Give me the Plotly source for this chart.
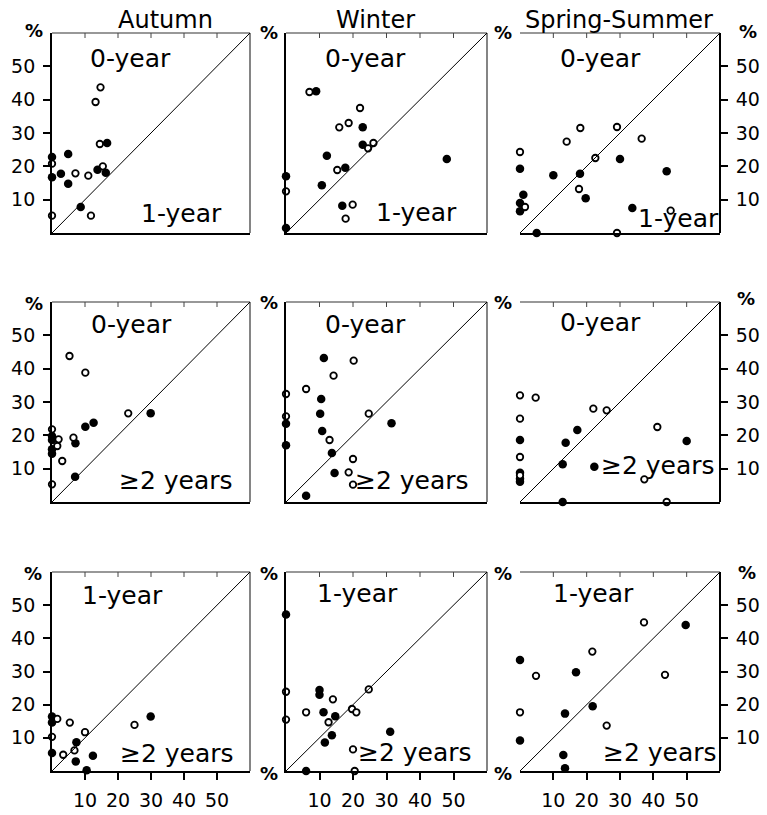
import plotly.graph_objects as go

# Axis extent (percent) shared by every panel
AXIS_MAX = 60
TICKS = [10, 20, 30, 40, 50]

SEASONS = ["Autumn", "Winter", "Spring-Summer"]
ROW_LABELS = [("0-year", "1-year"), ("0-year", "\u22652 years"), ("1-year", "\u22652 years")]

# (x, y) pairs: open = hollow symbols, filled = solid symbols
aut_0v1_open = [(0, 20.8), (0, 5.2), (7.1, 17.9), (11.0, 17.2), (11.8, 5.2), (13.2, 39.3),
                (14.7, 43.7), (14.5, 26.7), (15.4, 20.0)]
aut_0v1_fill = [(0, 22.8), (0, 16.7), (2.7, 17.8), (4.9, 23.7), (4.9, 14.8), (8.7, 7.8),
                (16.7, 27.0), (13.8, 19.0), (16.3, 18.1)]
win_0v1_open = [(0, 12.5), (7.0, 42.3), (22.1, 37.5), (15.9, 31.7), (18.7, 33.0), (24.5, 25.4),
                (26.1, 27.0), (15.3, 18.9), (19.9, 8.5), (17.8, 4.3)]
win_0v1_fill = [(0, 17.0), (0, 1.5), (9.0, 42.5), (22.9, 31.7), (22.9, 26.5), (12.2, 23.2),
                (17.7, 19.6), (10.7, 14.3), (16.8, 8.2), (48.0, 22.2)]
spr_0v1_open = [(0, 24.3), (1.5, 7.8), (14.0, 27.4), (18.1, 31.5), (17.7, 13.2), (22.6, 22.5),
                (29.1, 31.8), (29.1, 0), (36.5, 28.3), (45.2, 6.7)]
spr_0v1_fill = [(0, 19.3), (1.0, 11.5), (0, 9.0), (0, 6.5), (5.0, 0), (10.0, 17.3), (18.0, 17.8),
                (19.7, 10.4), (30.0, 22.2), (33.7, 7.5), (44.0, 18.5)]

aut_0v2_open = [(0, 21.8), (0, 5.3), (2.0, 18.8), (1.6, 16.8), (3.1, 12.3), (5.3, 43.8),
                (6.5, 19.3), (10.1, 38.8), (23.1, 26.6)]
aut_0v2_fill = [(0, 19.8), (0, 18.6), (0, 15.8), (0, 14.5), (7.1, 17.6), (7.0, 7.6),
                (10.1, 22.6), (12.6, 23.8), (29.9, 26.6)]
win_0v2_open = [(0, 32.4), (0, 25.7), (6.0, 33.9), (20.2, 42.4), (14.2, 37.9), (13.0, 18.6),
                (24.7, 26.5), (20.0, 12.9), (18.7, 8.9), (20.0, 5.2)]
win_0v2_fill = [(0, 23.5), (0, 17.0), (11.3, 43.2), (10.5, 30.9), (10.2, 26.5), (10.8, 21.3),
                (13.7, 14.7), (31.5, 23.6), (14.5, 8.7), (6.0, 1.9)]
spr_0v2_open = [(0, 32.0), (0, 25.0), (0, 13.5), (0, 8.0), (4.7, 31.3), (22.0, 28.0),
                (26.0, 27.5), (37.3, 6.8), (41.2, 22.5), (44.0, 0)]
spr_0v2_fill = [(0, 18.6), (0, 8.8), (0, 7.0), (0, 6.1), (13.7, 17.8), (17.2, 21.6),
                (12.8, 11.3), (22.3, 10.6), (50.0, 18.3), (12.8, 0)]

aut_1v2_open = [(1.6, 15.7), (0, 10.3), (3.4, 4.9), (5.4, 14.6), (6.8, 6.2), (10.0, 11.7),
                (25.0, 13.9)]
aut_1v2_fill = [(0, 16.4), (0, 14.6), (0, 5.4), (7.4, 8.7), (7.2, 2.9), (10.5, 0.2),
                (12.4, 4.6), (29.9, 16.4)]
win_1v2_open = [(0, 23.9), (0, 15.5), (14.0, 21.6), (6.0, 17.7), (12.7, 14.7), (19.7, 18.7),
                (21.0, 17.7), (24.7, 24.6), (20.0, 6.5), (20.5, 0)]
win_1v2_fill = [(0, 47.2), (10.0, 24.4), (10.0, 23.0), (11.2, 17.7), (14.7, 16.5), (13.7, 10.8),
                (11.6, 8.6), (31.1, 11.8), (6.0, 0)]
spr_1v2_open = [(0, 17.7), (4.8, 28.7), (21.7, 36.0), (26.0, 13.7), (37.2, 44.8), (43.5, 29.0)]
spr_1v2_fill = [(0, 33.5), (0, 9.2), (16.8, 29.8), (13.5, 17.3), (21.8, 19.5), (49.7, 44.0),
                (13.0, 4.8), (13.5, 0.8)]

PANELS = [
    [(aut_0v1_open, aut_0v1_fill), (win_0v1_open, win_0v1_fill), (spr_0v1_open, spr_0v1_fill)],
    [(aut_0v2_open, aut_0v2_fill), (win_0v2_open, win_0v2_fill), (spr_0v2_open, spr_0v2_fill)],
    [(aut_1v2_open, aut_1v2_fill), (win_1v2_open, win_1v2_fill), (spr_1v2_open, spr_1v2_fill)],
]

W, H = 767, 815
FONT = "DejaVu Sans"

# Panel boxes in pixels: column left/right, row top/bottom
COL_PX = [(52, 250), (286, 487), (520, 720)]
ROW_PX = [(33, 233), (302, 502), (572, 771)]


def px(x, y):
    return x / W, 1 - y / H


fig = go.Figure()
layout = dict(width=W, height=H, margin=dict(l=0, r=0, t=0, b=0),
              paper_bgcolor="white", plot_bgcolor="white", showlegend=False,
              font=dict(family=FONT, color="black"))
shapes = []
annotations = []

for r in range(3):
    for c in range(3):
        idx = r * 3 + c + 1
        xa = "x" if idx == 1 else f"x{idx}"
        ya = "y" if idx == 1 else f"y{idx}"
        open_pts, fill_pts = PANELS[r][c]

        fig.add_trace(go.Scatter(
            x=[p[0] for p in fill_pts], y=[p[1] for p in fill_pts], mode="markers",
            xaxis=xa, yaxis=ya, cliponaxis=False,
            marker=dict(symbol="circle", size=8.5, color="black", line=dict(width=0))))
        fig.add_trace(go.Scatter(
            x=[p[0] for p in open_pts], y=[p[1] for p in open_pts], mode="markers",
            xaxis=xa, yaxis=ya, cliponaxis=False,
            marker=dict(symbol="circle", size=6.5, color="white",
                        line=dict(width=1.8, color="black"))))

        x0, x1 = COL_PX[c]
        yt, yb = ROW_PX[r]
        bottom_row = r == 2
        xaxis = dict(domain=[x0 / W, x1 / W], range=[0, AXIS_MAX], anchor=ya,
                     showgrid=False, zeroline=False, showline=True, linecolor="black",
                     linewidth=1.8, fixedrange=True,
                     tickvals=TICKS if bottom_row else [],
                     ticks="outside" if bottom_row else "", ticklen=7, tickwidth=1.5,
                     tickcolor="black", showticklabels=bottom_row,
                     ticklabelstandoff=4,
                     tickfont=dict(family=FONT, size=19, color="black"))
        yaxis = dict(domain=[1 - yb / H, 1 - yt / H], range=[0, AXIS_MAX], anchor=xa,
                     showgrid=False, zeroline=False, showline=True, linecolor="black",
                     linewidth=1.8, fixedrange=True,
                     tickvals=TICKS if c != 1 else [],
                     ticks="outside" if c != 1 else "", ticklen=7, tickwidth=1.5,
                     tickcolor="black", showticklabels=c != 1,
                     ticklabelstandoff=4,
                     tickfont=dict(family=FONT, size=19, color="black"))
        if c == 2:
            yaxis["side"] = "right"
            yaxis["anchor"] = "free"
            yaxis["position"] = x1 / W
        layout["xaxis" if idx == 1 else f"xaxis{idx}"] = xaxis
        layout["yaxis" if idx == 1 else f"yaxis{idx}"] = yaxis

        # top and right edges of the frame
        shapes.append(dict(type="line", xref=f"{xa} domain", yref=f"{ya} domain",
                           x0=0, x1=1, y0=1, y1=1, line=dict(color="#333", width=1.2)))
        if c != 2:
            shapes.append(dict(type="line", xref=f"{xa} domain", yref=f"{ya} domain",
                               x0=1, x1=1, y0=0, y1=1, line=dict(color="#333", width=1.2)))
        # equality line
        shapes.append(dict(type="line", xref=xa, yref=ya, x0=0, y0=0,
                           x1=AXIS_MAX, y1=AXIS_MAX, line=dict(color="black", width=1)))
        # small inward ticks along the top edge of the frame
        for t in TICKS:
            shapes.append(dict(type="line", xref=xa, yref=f"{ya} domain", x0=t, x1=t,
                               y0=1, y1=0.975, line=dict(color="#444", width=1)))

# Column headings
for name, (xp, yp) in zip(SEASONS, [(165, 20), (375, 20), (619, 20)]):
    ax, ay = px(xp, yp)
    annotations.append(dict(text=name, x=ax, y=ay, xref="paper", yref="paper",
                            showarrow=False, font=dict(family=FONT, size=24),
                            xanchor="center", yanchor="middle"))

# Age-class labels inside each panel (upper-left group / lower-right group)
upper_pos = [[(130, 58), (365, 58), (600, 58)],
             [(131, 325), (365, 325), (600, 323)],
             [(122, 595), (357, 593), (593, 593)]]
lower_pos = [[(181, 213), (416, 212), (678, 218)],
             [(176, 480), (412, 480), (658, 465)],
             [(177, 753), (415, 752), (660, 752)]]
for r in range(3):
    up, low = ROW_LABELS[r]
    for c in range(3):
        for txt, (xp, yp) in ((up, upper_pos[r][c]), (low, lower_pos[r][c])):
            ax, ay = px(xp, yp)
            annotations.append(dict(text=txt, x=ax, y=ay, xref="paper", yref="paper",
                                    showarrow=False, font=dict(family=FONT, size=25),
                                    xanchor="center", yanchor="middle"))

# Percent signs marking the axes
pct_pos = [(34, 30), (269, 33), (503, 33), (748, 32),
           (34, 303), (269, 302), (503, 302), (746, 298),
           (33, 573), (269, 573), (503, 573), (747, 572),
           (269, 773), (503, 773)]
for xp, yp in pct_pos:
    ax, ay = px(xp, yp)
    annotations.append(dict(text="<b>%</b>", x=ax, y=ay, xref="paper", yref="paper",
                            showarrow=False, font=dict(family=FONT, size=18),
                            xanchor="center", yanchor="middle"))

layout["shapes"] = shapes
layout["annotations"] = annotations
fig.update_layout(**layout)
fig.write_html("out.html")
